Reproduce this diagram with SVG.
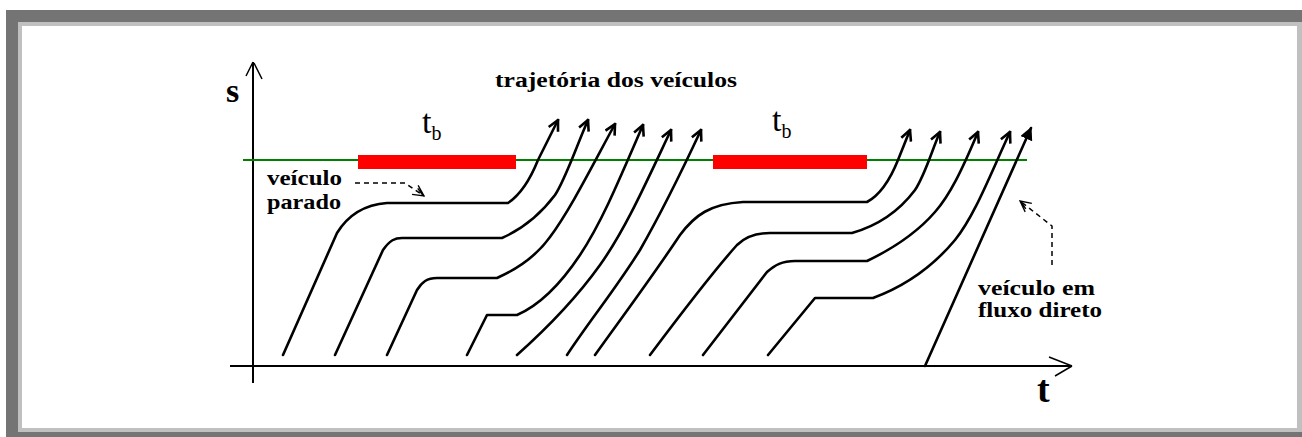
<svg xmlns="http://www.w3.org/2000/svg" width="1302" height="437" viewBox="0 0 1302 437">
<style>
.frame-dark{fill:#747474}
.frame-light{fill:#c0c0c0}
.traj{fill:none;stroke:#000;stroke-width:2.6;stroke-linejoin:round;stroke-linecap:round}
.axis{fill:none;stroke:#000;stroke-width:2}
.lbl{font-family:"Liberation Serif","Times New Roman",serif;font-weight:bold;fill:#000}
.dash{fill:none;stroke:#000;stroke-width:1.5;stroke-dasharray:5,4}
</style>
<defs>
<marker id="ah" viewBox="0 0 10 10" refX="9" refY="5" markerWidth="5" markerHeight="5" orient="auto" markerUnits="strokeWidth">
<path d="M1,1 L9,5 L1,9" fill="none" stroke="#000" stroke-width="2"/>
</marker>
<marker id="ahf" viewBox="0 0 10 10" refX="9" refY="5" markerWidth="5" markerHeight="5" orient="auto" markerUnits="strokeWidth">
<path d="M0,0 L10,5 L0,10 Z" fill="#000"/>
</marker>
<marker id="ahs" viewBox="0 0 10 10" refX="9" refY="5" markerWidth="9" markerHeight="9" orient="auto" markerUnits="strokeWidth">
<path d="M1,1 L9,5 L1,9 M2,3 L8,5" fill="none" stroke="#000" stroke-width="1"/>
</marker>
</defs>
<rect width="1302" height="437" fill="#ffffff"/>
<g id="frame">
<rect class="frame-dark" x="6" y="10" width="1296" height="12"/>
<rect class="frame-dark" x="6" y="10" width="12" height="427"/>
<rect class="frame-dark" x="6" y="432" width="1296" height="5"/>
<rect class="frame-light" x="18" y="22" width="1284" height="4"/>
<rect class="frame-light" x="18" y="22" width="4" height="410"/>
<rect class="frame-light" x="1297" y="22" width="5" height="410"/>
<rect class="frame-light" x="22" y="428" width="1280" height="4"/>
</g>
<g id="axes">
<path class="axis" d="M253,383 L253,62"/>
<path fill="none" stroke="#000" stroke-width="1.5" d="M253,62 L246,76 M254,63 L262,79"/>
<path class="axis" d="M230,366 L1072,366"/>
<path fill="none" stroke="#000" stroke-width="1.5" d="M1072,366 L1049,357 M1072,366 L1055,376"/>
<text class="lbl" x="226" y="102" font-size="34">s</text>
<text class="lbl" x="1037" y="402" font-size="38">t</text>
</g>
<g id="stopline">
<path d="M243,160 L1027,160" stroke="#008000" stroke-width="2" fill="none"/>
</g>
<g id="red1"><rect x="358" y="155" width="158" height="14" fill="#ff0000"/>
<text class="lbl" x="422" y="133" font-size="34" style="font-weight:normal">t<tspan font-size="20" dy="7">b</tspan></text>
</g>
<g id="red2"><rect x="713" y="155" width="154" height="14" fill="#ff0000"/>
<text class="lbl" x="772" y="131" font-size="34" style="font-weight:normal">t<tspan font-size="20" dy="7">b</tspan></text>
</g>
<g id="title"><text class="lbl" x="495" y="87" font-size="20" textLength="242" lengthAdjust="spacingAndGlyphs">trajetória dos veículos</text></g>
<g id="label-parado">
<text class="lbl" x="267" y="185" font-size="21" textLength="75" lengthAdjust="spacingAndGlyphs">veículo</text>
<text class="lbl" x="267" y="209" font-size="21" textLength="74" lengthAdjust="spacingAndGlyphs">parado</text>
</g>
<g id="label-direto">
<text class="lbl" x="978" y="295" font-size="21" textLength="117" lengthAdjust="spacingAndGlyphs">veículo em</text>
<text class="lbl" x="978" y="317" font-size="21" textLength="124" lengthAdjust="spacingAndGlyphs">fluxo direto</text>
</g>
<g id="connectors">
<path class="dash" d="M355,183 L405,183 L424,196" marker-end="url(#ahs)"/>
<path class="dash" d="M1052,265 L1052,226 L1020,201" marker-end="url(#ahs)"/>
</g>
<g id="trajectories">
<path class="traj" marker-end="url(#ah)" d="M283,355 L337,233 C345,220 360,205 387,203 L508,203 C520,195 530,180 538,160 L558,120"/>
<path class="traj" marker-end="url(#ah)" d="M335,355 L383,250 C390,240 395,238 402,238 L502,238 C520,230 540,215 555,195 C565,180 575,150 588,120"/>
<path class="traj" marker-end="url(#ah)" d="M387,355 L417,290 C422,282 427,278 437,278 L497,278 C515,270 535,258 550,237 C570,210 590,170 615,124"/>
<path class="traj" marker-end="url(#ah)" d="M467,355 L487,315 L517,315 C540,305 560,285 580,255 C600,225 615,190 643,125"/>
<path class="traj" marker-end="url(#ah)" d="M517,355 C545,330 575,300 600,265 C625,230 645,185 671,130"/>
<path class="traj" marker-end="url(#ah)" d="M567,355 C590,320 615,290 640,250 C660,215 680,175 701,130"/>
<path class="traj" marker-end="url(#ah)" d="M595,355 C620,320 650,280 680,235 C695,215 710,204 743,202 L867,202 C880,195 890,180 898,160 L910,130"/>
<path class="traj" marker-end="url(#ah)" d="M650,355 C680,315 710,275 737,245 C745,237 755,233 770,233 L852,233 C880,225 900,210 915,190 C925,175 932,150 940,132"/>
<path class="traj" marker-end="url(#ah)" d="M703,355 L767,272 C775,265 782,261 795,261 L867,261 C890,250 915,235 935,212 C950,195 962,170 978,132"/>
<path class="traj" marker-end="url(#ah)" d="M768,355 L815,298 L873,298 C900,288 930,270 955,240 C975,215 990,175 1010,132"/>
<path class="traj" marker-end="url(#ahf)" d="M925,366 L1031,128"/>
</g>
</svg>
